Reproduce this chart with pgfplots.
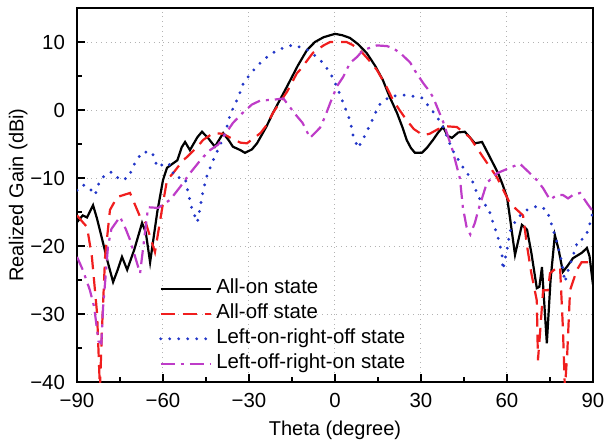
\documentclass[border=0pt]{standalone}
\usepackage{pgfplots}
\pgfplotsset{compat=1.18}
\usepackage{fontspec}
\setmainfont{Liberation Sans}
\definecolor{cred}{RGB}{240,30,30}
\definecolor{cblue}{RGB}{35,55,200}
\definecolor{cmag}{RGB}{190,60,200}
\begin{document}
\begin{tikzpicture}
\begin{axis}[
  at={(0,0)}, anchor=south west,
  scale only axis,
  width=258pt, height=187pt,
  xmin=-90, xmax=90, ymin=-40, ymax=15,
  xtick={-90,-60,-30,0,30,60,90},
  xticklabels={−90,−60,−30,0,30,60,90},
  ytick={-40,-30,-20,-10,0,10},
  yticklabels={−40,−30,−20,−10,0,10},
  minor x tick num=1, minor y tick num=1,
  tick align=inside, tick pos=left,
  major tick length=4pt, minor tick length=2.5pt,
  tick style={black, line width=0.6pt},
  grid=major,
  major grid style={gray!60, dotted, line width=0.5pt},
  axis line style={black, line width=0.8pt},
  tick label style={font=\fontsize{10.2}{12}\selectfont},
  xticklabel style={yshift=-2pt},
  yticklabel style={xshift=-2.5pt},
  xlabel={Theta (degree)},
  ylabel={Realized Gain (dBi)},
  label style={font=\fontsize{10.2}{12}\selectfont},
  every axis x label/.style={at={(axis description cs:0.5,-0.128)}, anchor=center},
  every axis y label/.style={at={(axis description cs:-0.114,0.5)}, rotate=90, anchor=center},
  legend style={at={(axis cs:-61.5,-24.4)}, anchor=north west, draw=none, fill=none,
    font=\fontsize{10.2}{12}\selectfont, inner sep=0pt,
    nodes={text height=7.5pt, text depth=2.5pt, inner ysep=1.25pt, inner xsep=2pt}},
  legend cell align=left,
  legend image code/.code={\draw[#1] (0pt,0pt) -- (25pt,0pt);},
]
\addplot[black, line width=1.1pt] coordinates {
(-90,-16.5) (-88,-15.5) (-86.5,-15.8) (-84.4,-14) (-83,-16) (-81,-19.4) (-79.5,-22) (-77.4,-25.3) (-75.8,-23.5) (-74.3,-21.6) (-72.5,-23.5) (-70,-20.5) (-67.3,-16.6) (-66,-18) (-64.5,-22.4) (-62,-15) (-60,-10.3) (-58.6,-8.5) (-57,-8) (-55,-7.4) (-53.5,-5.5) (-52.3,-4.7) (-50.6,-5.9) (-48,-4) (-46.4,-3.2) (-44.3,-4.1) (-41.9,-5.4) (-39,-3.4) (-37,-4.5) (-35.6,-5.4) (-33,-5.9) (-31.4,-6.3) (-29,-5.8) (-27.2,-4.9) (-24,-2.5) (-21.6,-0.4) (-16.8,3.4) (-13,6.5) (-9.8,8.8) (-7,10) (-4,10.7) (0,11.2) (2.5,11) (5.2,10.6) (8,9.7) (11,8.4) (14,6.5) (16.7,4.4) (19,2) (21.6,-0.4) (23.5,-2.5) (25,-4.4) (26.5,-5.6) (27.9,-6.3) (30.3,-6.3) (32,-5.6) (34.2,-4.4) (36,-3.3) (37.7,-2.5) (39.3,-3.8) (40.8,-4.1) (43,-3.3) (45.3,-3.2) (47,-4) (48.8,-4.9) (51.3,-4.7) (54,-6.9) (56.9,-9.3) (58.5,-11) (60,-12.8) (61,-15.7) (62.8,-21.3) (65.2,-16.9) (67,-17.6) (68.5,-21) (70.4,-26.2) (71.3,-26) (72.2,-23.1) (73.9,-34.3) (75.2,-25) (76.7,-18.4) (78,-20.5) (79.5,-23.8) (81,-23) (83,-21.8) (86.1,-21) (87.9,-20.3) (88.8,-21.5) (90,-25.7)
};
\addlegendentry{All-on state}
\addplot[cred, line width=1.1pt, dash pattern=on 7pt off 4pt] coordinates {
(-90,-15.5) (-88,-16.5) (-86.5,-17.2) (-84.8,-21.6) (-83,-29.9) (-82,-41) (-81.3,-32.4) (-80.2,-21.6) (-78.5,-14.7) (-76,-12.8) (-71.5,-12.2) (-68,-15.7) (-66,-16.6) (-62.8,-20.9) (-60,-13.7) (-58.6,-10.3) (-56.5,-9.3) (-53,-7.4) (-51.6,-6.9) (-48,-5.4) (-46,-4.4) (-42.5,-3.4) (-39,-3.5) (-36,-4.2) (-33,-4.8) (-30.7,-4.9) (-26,-3.4) (-24,-2.3) (-21.6,-0.4) (-18,1.9) (-16.7,2.7) (-13.3,5.4) (-12.2,5.9) (-7.7,8.4) (-4,9.5) (-1.7,10) (4,10) (6,9.6) (8.7,8.8) (11.5,7.5) (14.6,5.9) (17.5,3.8) (20.2,1.5) (22.5,0) (25,-1.5) (27.5,-2.8) (30.7,-3.7) (33,-3.5) (36,-2.8) (39,-2.4) (42.5,-2.5) (47,-4) (51.6,-6.9) (56.5,-9.9) (61,-13.7) (63,-14.5) (65.6,-15.5) (67,-20) (68.5,-24) (70.4,-28) (70.8,-36.8) (71.5,-33) (72.6,-26.5) (74.3,-26.5) (75,-24) (76.5,-23.5) (78.5,-23) (79.5,-32) (80.2,-41) (81,-36) (82,-26.5) (84.4,-23.5) (86,-22.4) (90,-22.4)
};
\addlegendentry{All-off state}
\addplot[cblue, line width=1.6pt, line cap=round, dash pattern=on 0pt off 4.5pt] coordinates {
(-90,-11.8) (-88,-11) (-86,-11.3) (-83.7,-12.5) (-82,-10.3) (-80,-9.5) (-77.8,-9.1) (-75,-10.3) (-72.2,-10) (-69.8,-7.8) (-67.3,-6.2) (-63.8,-6.2) (-62,-8.4) (-60,-8) (-58,-7.8) (-55.8,-9.9) (-52.3,-10) (-51.2,-12.2) (-50,-14.4) (-48,-16.5) (-47,-14.3) (-46,-11.8) (-44.6,-9.6) (-42.5,-7.4) (-40,-5.1) (-38,-3) (-36.6,-0.7) (-33.8,1.8) (-32,3.9) (-29,5.6) (-25,7.4) (-20.2,8.8) (-14.6,9.6) (-9.4,8.8) (-5.2,7.4) (-1.7,5.5) (0.7,3.4) (2.9,1) (5.2,-1.5) (6.3,-3.7) (8,-5.6) (10.5,-3.7) (13,-1.5) (15.3,0.7) (19.2,2) (24.4,2.2) (30.3,1.8) (33,0.4) (35.6,-1) (37.7,-2.5) (41,-5.9) (44.6,-8.4) (47.8,-10.3) (49.5,-12.2) (51,-13.5) (53.4,-14.3) (55.1,-16.5) (56.9,-18.8) (58.2,-21) (58.6,-23.5) (60,-20.6) (61,-17.9) (63.5,-15.9) (67,-14.7) (70.8,-14.1) (73.9,-14.7) (75.7,-17) (77.4,-19.4) (79.2,-22.5) (80.2,-25.3) (81,-24) (83,-21.5) (84.8,-19.1) (86.5,-19) (87.9,-18.1) (89,-16.6) (90,-15)
};
\addlegendentry{Left-on-right-off state}
\addplot[cmag, line width=1.1pt, dash pattern=on 7pt off 3pt on 1.5pt off 3pt] coordinates {
(-90,-21.6) (-88,-23.5) (-85.5,-26.5) (-84,-29) (-82.5,-34) (-81.5,-34.3) (-80.9,-29) (-79.2,-20.1) (-78,-17.5) (-75,-15.7) (-73,-17.5) (-71.5,-19.1) (-68,-24) (-66.3,-18.1) (-65.2,-14.3) (-61.7,-14.4) (-57.5,-13.2) (-54,-11.3) (-50.6,-9.3) (-46.4,-7.1) (-43.6,-5.9) (-40.8,-5.1) (-39,-4) (-35.6,-1.9) (-32.4,-0.5) (-29,0.8) (-26,1.4) (-21.6,1.5) (-18,1.7) (-15.7,0.4) (-13.5,-0.8) (-11.3,-1.9) (-8.7,-4.1) (-5.2,-2.6) (-3.5,-1) (-1.7,1) (0.7,3.5) (2.9,4.9) (5.2,6.9) (7.7,7.8) (9.8,8.8) (14.6,9.5) (18.1,9.4) (20.2,9.1) (22.7,8.4) (26.2,7) (28,5.7) (30.7,4) (32.5,3) (34.2,1.9) (37.7,-1.7) (41,-5.9) (43.6,-10.1) (44.6,-14.3) (45.9,-17.2) (47.2,-18.3) (48.8,-16.6) (50,-14.7) (53,-10.7) (56.5,-9.3) (61,-8.5) (64.5,-7.9) (68,-9.3) (70.4,-10.3) (72.6,-11.5) (75,-13.2) (77.4,-12.5) (79.5,-12.5) (81.3,-13) (83,-12.5) (85.5,-12.2) (87.9,-13.7) (89.6,-14.7)
};
\addlegendentry{Left-off-right-on state}
\end{axis}
\pgfresetboundingbox
\path (-38.5pt,-31pt) rectangle (266pt,191pt);
\end{tikzpicture}
\end{document}
